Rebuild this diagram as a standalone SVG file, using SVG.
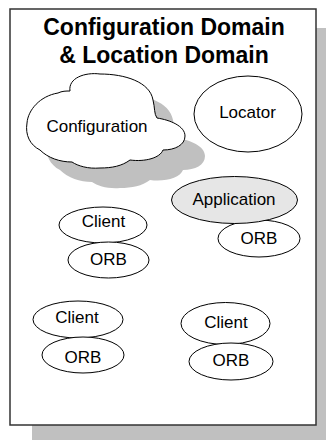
<svg xmlns="http://www.w3.org/2000/svg" width="327" height="441" viewBox="0 0 327 441">
<style>
.n{fill:#ffffff;stroke:#000000;stroke-width:1}
.g{fill:#e6e6e6;stroke:#000000;stroke-width:1}
.sh{fill:#c0c0c0;stroke:none}
.t{font-family:"Liberation Sans",Arial,sans-serif;font-size:17px;fill:#000000;text-anchor:middle}
.h{font-family:"Liberation Sans",Arial,sans-serif;font-size:23px;font-weight:bold;fill:#000000;text-anchor:middle}
</style>
<defs>
<path id="cloud" d="M 70 91 C 68 78, 85 72, 100 74 C 125 74, 150 82, 153 100 C 155 108, 154 114, 157 118 C 170 120, 185 126, 185 136 C 185 145, 175 150, 163 150 C 160 158, 145 162, 130 160 C 122 166, 112 168, 100 168 C 88 169, 78 166, 72 162 C 60 162, 48 158, 40 150 C 30 145, 25 135, 27 123 C 28 110, 40 96, 58 93 C 62 91, 66 91, 70 91 Z"/>
</defs>
<rect width="327" height="441" fill="#ffffff"/>
<g id="frame">
<rect class="sh" x="32" y="28" width="294" height="412"/>
<rect x="10" y="9" width="306" height="416" fill="#ffffff" stroke="#333333" stroke-width="1.5"/>
<text class="h" x="164" y="35">Configuration Domain</text>
<text class="h" x="164" y="63">&amp; Location Domain</text>
</g>
<g id="configuration">
<use href="#cloud" class="sh" transform="translate(20,20)"/>
<use href="#cloud" class="n"/>
<text class="t" x="97" y="132">Configuration</text>
</g>
<g id="locator">
<ellipse class="n" cx="248" cy="114" rx="54" ry="38"/>
<text class="t" x="247.5" y="118">Locator</text>
</g>
<g id="app-orb">
<ellipse class="n" cx="259" cy="238.5" rx="41" ry="18.5"/>
<text class="t" x="259" y="244">ORB</text>
</g>
<g id="application">
<ellipse class="g" cx="234.5" cy="200" rx="63" ry="23.5"/>
<text class="t" x="234" y="205">Application</text>
</g>
<g id="client1">
<ellipse class="n" cx="103" cy="225" rx="44" ry="18"/>
<text class="t" x="103.5" y="227">Client</text>
</g>
<g id="orb1">
<ellipse class="n" cx="108.5" cy="260" rx="40.5" ry="18"/>
<text class="t" x="108.5" y="265">ORB</text>
</g>
<g id="client2">
<ellipse class="n" cx="78" cy="319.5" rx="45" ry="18.5"/>
<text class="t" x="77" y="323">Client</text>
</g>
<g id="orb2">
<ellipse class="n" cx="83" cy="355" rx="41" ry="18"/>
<text class="t" x="83" y="362.5">ORB</text>
</g>
<g id="client3">
<ellipse class="n" cx="225.5" cy="323.5" rx="44.5" ry="21"/>
<text class="t" x="226" y="328">Client</text>
</g>
<g id="orb3">
<ellipse class="n" cx="231" cy="361.5" rx="42" ry="18.5"/>
<text class="t" x="231" y="366">ORB</text>
</g>
<g id="connectors"></g>
</svg>
